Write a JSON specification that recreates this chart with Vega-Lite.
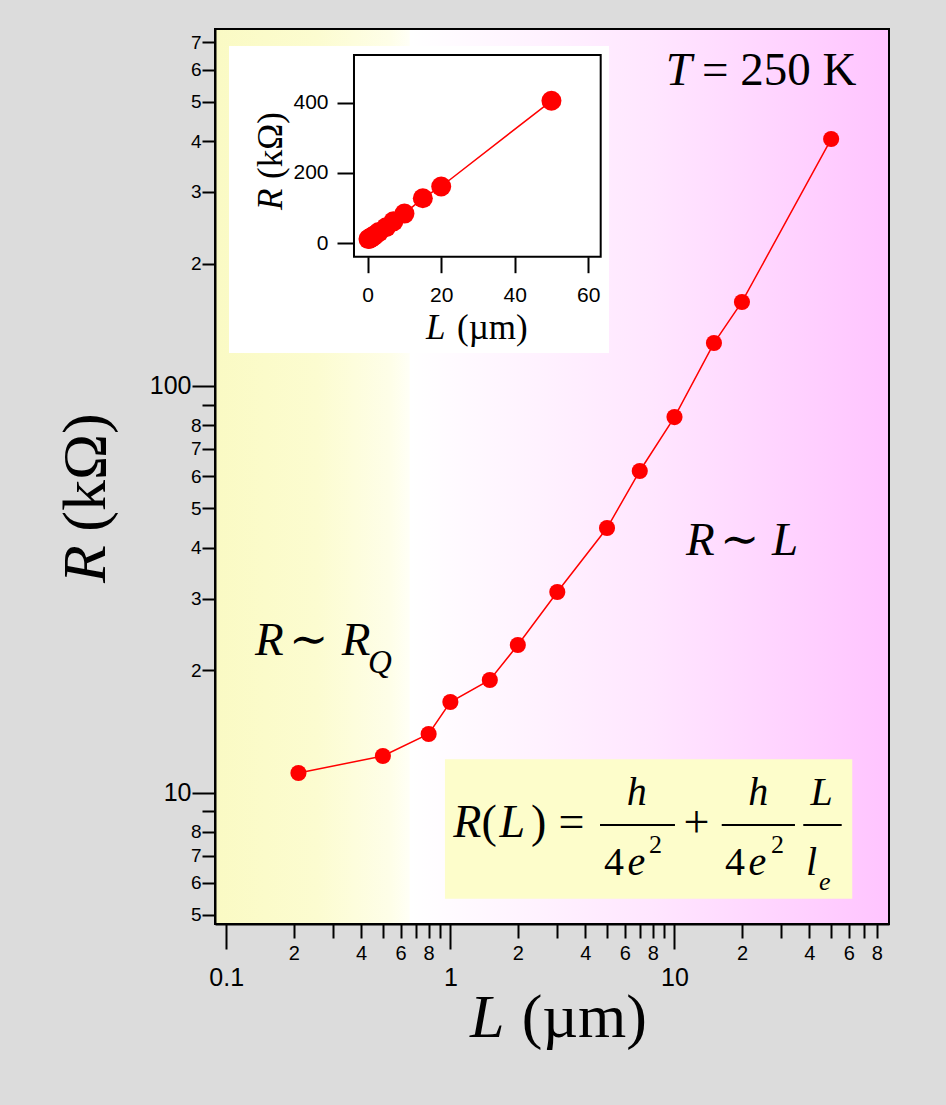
{
  "$schema": "https://vega.github.io/schema/vega-lite/v6.json",
  "autosize": {"type": "none"},
  "padding": {"left": 215, "top": 29, "right": 57, "bottom": 181},
  "width": 674,
  "height": 895,
  "background": "#dcdcdc",
  "view": {
    "fill": {
      "gradient": "linear", "x1": 0, "y1": 0, "x2": 1, "y2": 0,
      "stops": [
        {"offset": 0, "color": "#fafac4"},
        {"offset": 0.15, "color": "#fcfcd0"},
        {"offset": 0.26, "color": "#fefee8"},
        {"offset": 0.288, "color": "#fffff6"},
        {"offset": 0.29, "color": "#ffffff"},
        {"offset": 0.65, "color": "#ffe6ff"},
        {"offset": 1, "color": "#ffc4ff"}
      ]
    },
    "stroke": "black",
    "strokeWidth": 2
  },
  "config": {"text": {"font": "Liberation Serif", "color": "black", "baseline": "alphabetic"}},
  "datasets": {
    "resistance": [
      {"L": 0.21, "R": 11.17}, {"L": 0.5, "R": 12.3}, {"L": 0.8, "R": 13.93},
      {"L": 1, "R": 16.7}, {"L": 1.5, "R": 18.92}, {"L": 2, "R": 23.07},
      {"L": 3, "R": 31.13}, {"L": 5, "R": 44.73}, {"L": 7, "R": 61.78},
      {"L": 10, "R": 83.85}, {"L": 15, "R": 127.5}, {"L": 20, "R": 160.9},
      {"L": 50, "R": 404.9}
    ],
    "labelsItalic": [
      {"text": "T", "L": 9.15, "R": 549.8},
      {"text": "R", "L": 0.1344, "R": 21.79},
      {"text": "R", "L": 0.3275, "R": 21.79},
      {"text": "R", "L": 11.26, "R": 38.38},
      {"text": "L", "L": 27.24, "R": 38.38}
    ],
    "labelsUpright": [
      {"text": "= 250 K", "L": 13.27, "R": 549.8},
      {"text": "∼", "L": 0.1906, "R": 21.79},
      {"text": "∼", "L": 15.96, "R": 38.38}
    ],
    "labelsSubscript": [{"text": "Q", "L": 0.429, "R": 19.68}],
    "formulaBox": [{"L": 0.946, "L2": 62.1, "R": 5.48, "R2": 12.07}],
    "formulaItalic": [
      {"text": "R", "L": 1.0306, "R": 7.762},
      {"text": "L", "L": 1.6568, "R": 7.762}
    ],
    "formulaUpright": [
      {"text": "(", "L": 1.3772, "R": 7.762},
      {"text": ")", "L": 2.2895, "R": 7.762},
      {"text": "=", "L": 3.037, "R": 7.762},
      {"text": "+", "L": 10.97, "R": 7.762}
    ],
    "formulaNumerators": [
      {"text": "h", "L": 6.783, "R": 9.32},
      {"text": "h", "L": 23.66, "R": 9.32},
      {"text": "L", "L": 45.38, "R": 9.32}
    ],
    "formulaDenomItalic": [
      {"text": "e", "L": 6.171, "R": 6.268},
      {"text": "e", "L": 21.39, "R": 6.268},
      {"text": "l", "L": 38.63, "R": 6.268}
    ],
    "formulaDenomUpright": [
      {"text": "4", "L": 4.847, "R": 6.268},
      {"text": "4", "L": 16.81, "R": 6.268}
    ],
    "formulaSuperscripts": [
      {"text": "2", "L": 7.697, "R": 7.089},
      {"text": "2", "L": 26.96, "R": 7.089}
    ],
    "formulaSubscripts": [{"text": "e", "L": 44.14, "R": 5.758}],
    "fractionBars": [
      {"L": 4.653, "L2": 10.05, "R": 8.323},
      {"L": 16.25, "L2": 34.48, "R": 8.323},
      {"L": 37.55, "L2": 55.73, "R": 8.323}
    ],
    "axisTitleItalic": [{"text": "L", "L": 1.2234, "R": 2.509}],
    "axisTitleUpright": [{"text": "(µm)", "L": 2.081, "R": 2.509}],
    "axisTitleItalicVertical": [{"text": "R", "L": 0.02877, "R": 32.77}],
    "axisTitleUprightVertical": [{"text": "(kΩ)", "L": 0.02877, "R": 43.81}],
    "insetPanel": [{"L": -37.74, "L2": 65.66, "R": -313.2, "R2": 560.9}],
    "insetFrame": [{"L": -3.73, "L2": 63.4, "R": -39.0, "R2": 535.2}],
    "insetTitleItalic": [{"text": "L", "L": 15.86, "R": -273.3}],
    "insetTitleUpright": [{"text": "(µm)", "L": 24.3, "R": -273.3}],
    "insetTitleItalicVertical": [{"text": "R", "L": -23.4, "R": 93.95}],
    "insetTitleUprightVertical": [{"text": "(kΩ)", "L": -23.4, "R": 182.2}]
  },
  "layer": [
    {
      "encoding": {
        "x": {
          "field": "L", "type": "quantitative",
          "scale": {"type": "log", "domain": [0.0891, 90.6], "nice": false},
          "axis": {
            "title": null,
            "values": [0.1, 0.2, 0.3, 0.4, 0.5, 0.6, 0.7, 0.8, 0.9, 1, 2, 3, 4, 5, 6, 7, 8, 9, 10, 20, 30, 40, 50, 60, 70, 80],
            "labelExpr": "round(datum.value / pow(10, floor(log(datum.value) / LN10 + 1e-6))) == 1 ? format(datum.value, '~g') : (round(datum.value / pow(10, floor(log(datum.value) / LN10 + 1e-6))) % 2 == 0 ? '' + round(datum.value / pow(10, floor(log(datum.value) / LN10 + 1e-6))) : '')",
            "grid": false,
            "domainColor": "black", "domainWidth": 2,
            "tickColor": "black", "tickWidth": 2,
            "tickSize": {"condition": {"test": "round(datum.value / pow(10, floor(log(datum.value) / LN10 + 1e-6))) == 1", "value": 25}, "value": 14},
            "labelFontSize": {"condition": {"test": "round(datum.value / pow(10, floor(log(datum.value) / LN10 + 1e-6))) == 1", "value": 25}, "value": 20},
            "labelPadding": {"condition": {"test": "round(datum.value / pow(10, floor(log(datum.value) / LN10 + 1e-6))) == 1", "value": 36}, "value": 21},
            "labelBaseline": "alphabetic", "labelAlign": "center",
            "labelFont": "Liberation Sans", "labelColor": "black",
            "labelOverlap": false, "labelFlush": false, "labelBound": false,
            "zindex": 1
          }
        },
        "y": {
          "field": "R", "type": "quantitative",
          "scale": {"type": "log", "domain": [4.75, 755], "nice": false},
          "axis": {
            "title": null,
            "values": [5, 6, 7, 8, 9, 10, 20, 30, 40, 50, 60, 70, 80, 90, 100, 200, 300, 400, 500, 600, 700],
            "labelExpr": "round(datum.value / pow(10, floor(log(datum.value) / LN10 + 1e-6))) == 1 ? format(datum.value, '~g') : (round(datum.value / pow(10, floor(log(datum.value) / LN10 + 1e-6))) == 9 ? '' : '' + round(datum.value / pow(10, floor(log(datum.value) / LN10 + 1e-6))))",
            "grid": false,
            "domainColor": "black", "domainWidth": 2,
            "tickColor": "black", "tickWidth": 2,
            "tickSize": {"condition": {"test": "round(datum.value / pow(10, floor(log(datum.value) / LN10 + 1e-6))) == 1", "value": 23}, "value": 13},
            "labelFontSize": {"condition": {"test": "round(datum.value / pow(10, floor(log(datum.value) / LN10 + 1e-6))) == 1", "value": 25}, "value": 19},
            "labelPadding": 1,
            "labelBaseline": "middle", "labelAlign": "right",
            "labelFont": "Liberation Sans", "labelColor": "black",
            "labelOverlap": false, "labelFlush": false, "labelBound": false,
            "zindex": 1
          }
        }
      },
      "layer": [
        {
          "data": {"name": "formulaBox"},
          "mark": {"type": "rect", "color": "#fdfdcb"},
          "encoding": {"x2": {"field": "L2"}, "y2": {"field": "R2"}}
        },
        {
          "data": {"name": "resistance"},
          "mark": {"type": "line", "color": "#ff0000", "strokeWidth": 1.5}
        },
        {
          "data": {"name": "resistance"},
          "mark": {"type": "circle", "color": "#ff0000", "size": 260, "opacity": 1}
        },
        {
          "data": {"name": "labelsItalic"},
          "mark": {"type": "text", "fontSize": 47, "fontStyle": "italic", "align": "left"},
          "encoding": {"text": {"field": "text", "type": "nominal"}}
        },
        {
          "data": {"name": "labelsUpright"},
          "mark": {"type": "text", "fontSize": 47, "align": "left", "font": "Liberation Serif, DejaVu Serif"},
          "encoding": {"text": {"field": "text", "type": "nominal"}}
        },
        {
          "data": {"name": "labelsSubscript"},
          "mark": {"type": "text", "fontSize": 33, "fontStyle": "italic", "align": "left"},
          "encoding": {"text": {"field": "text", "type": "nominal"}}
        },
        {
          "data": {"name": "formulaItalic"},
          "mark": {"type": "text", "fontSize": 46, "fontStyle": "italic", "align": "left"},
          "encoding": {"text": {"field": "text", "type": "nominal"}}
        },
        {
          "data": {"name": "formulaUpright"},
          "mark": {"type": "text", "fontSize": 46, "align": "left"},
          "encoding": {"text": {"field": "text", "type": "nominal"}}
        },
        {
          "data": {"name": "formulaNumerators"},
          "mark": {"type": "text", "fontSize": 40, "fontStyle": "italic", "align": "center"},
          "encoding": {"text": {"field": "text", "type": "nominal"}}
        },
        {
          "data": {"name": "formulaDenomItalic"},
          "mark": {"type": "text", "fontSize": 40, "fontStyle": "italic", "align": "left"},
          "encoding": {"text": {"field": "text", "type": "nominal"}}
        },
        {
          "data": {"name": "formulaDenomUpright"},
          "mark": {"type": "text", "fontSize": 40, "align": "left"},
          "encoding": {"text": {"field": "text", "type": "nominal"}}
        },
        {
          "data": {"name": "formulaSuperscripts"},
          "mark": {"type": "text", "fontSize": 26, "align": "left"},
          "encoding": {"text": {"field": "text", "type": "nominal"}}
        },
        {
          "data": {"name": "formulaSubscripts"},
          "mark": {"type": "text", "fontSize": 26, "fontStyle": "italic", "align": "left"},
          "encoding": {"text": {"field": "text", "type": "nominal"}}
        },
        {
          "data": {"name": "fractionBars"},
          "mark": {"type": "rule", "color": "black", "strokeWidth": 2},
          "encoding": {"x2": {"field": "L2"}}
        },
        {
          "data": {"name": "axisTitleItalic"},
          "mark": {"type": "text", "fontSize": 62, "fontStyle": "italic", "align": "left"},
          "encoding": {"text": {"field": "text", "type": "nominal"}}
        },
        {
          "data": {"name": "axisTitleUpright"},
          "mark": {"type": "text", "fontSize": 62, "align": "left"},
          "encoding": {"text": {"field": "text", "type": "nominal"}}
        },
        {
          "data": {"name": "axisTitleItalicVertical"},
          "mark": {"type": "text", "fontSize": 62, "fontStyle": "italic", "align": "left", "angle": 270},
          "encoding": {"text": {"field": "text", "type": "nominal"}}
        },
        {
          "data": {"name": "axisTitleUprightVertical"},
          "mark": {"type": "text", "fontSize": 62, "align": "left", "angle": 270},
          "encoding": {"text": {"field": "text", "type": "nominal"}}
        }
      ]
    },
    {
      "encoding": {
        "x": {
          "field": "L", "type": "quantitative",
          "scale": {"domain": [-41.55, 141.85], "nice": false, "zero": false},
          "axis": {
            "title": null, "orient": "bottom", "offset": -667.3,
            "values": [0, 20, 40, 60], "domain": false, "grid": false,
            "tickColor": "black", "tickWidth": 2, "tickSize": 16,
            "labelFontSize": 21, "labelPadding": 28.4, "labelBaseline": "alphabetic",
            "labelFont": "Liberation Sans", "labelColor": "black",
            "labelOverlap": false, "labelFlush": false, "labelBound": false,
            "zindex": 1
          }
        },
        "y": {
          "field": "R", "type": "quantitative",
          "scale": {"domain": [-1938.8, 609.3], "nice": false, "zero": false},
          "axis": {
            "title": null, "orient": "left", "offset": -139,
            "values": [0, 200, 400], "domain": false, "grid": false,
            "tickColor": "black", "tickWidth": 2, "tickSize": 17,
            "labelFontSize": 21, "labelPadding": 9, "labelBaseline": "middle",
            "labelFont": "Liberation Sans", "labelColor": "black",
            "labelOverlap": false, "labelFlush": false, "labelBound": false,
            "zindex": 1
          }
        }
      },
      "layer": [
        {
          "data": {"name": "insetPanel"},
          "mark": {"type": "rect", "color": "white"},
          "encoding": {"x2": {"field": "L2"}, "y2": {"field": "R2"}}
        },
        {
          "data": {"name": "resistance"},
          "mark": {"type": "line", "color": "#ff0000", "strokeWidth": 1.5}
        },
        {
          "data": {"name": "resistance"},
          "mark": {"type": "circle", "color": "#ff0000", "size": 400, "opacity": 1}
        },
        {
          "data": {"name": "insetFrame"},
          "mark": {"type": "rect", "fill": null, "stroke": "black", "strokeWidth": 2},
          "encoding": {"x2": {"field": "L2"}, "y2": {"field": "R2"}}
        },
        {
          "data": {"name": "insetTitleItalic"},
          "mark": {"type": "text", "fontSize": 35, "fontStyle": "italic", "align": "left"},
          "encoding": {"text": {"field": "text", "type": "nominal"}}
        },
        {
          "data": {"name": "insetTitleUpright"},
          "mark": {"type": "text", "fontSize": 35, "align": "left"},
          "encoding": {"text": {"field": "text", "type": "nominal"}}
        },
        {
          "data": {"name": "insetTitleItalicVertical"},
          "mark": {"type": "text", "fontSize": 35, "fontStyle": "italic", "align": "left", "angle": 270},
          "encoding": {"text": {"field": "text", "type": "nominal"}}
        },
        {
          "data": {"name": "insetTitleUprightVertical"},
          "mark": {"type": "text", "fontSize": 35, "align": "left", "angle": 270},
          "encoding": {"text": {"field": "text", "type": "nominal"}}
        }
      ]
    }
  ],
  "resolve": {
    "scale": {"x": "independent", "y": "independent"},
    "axis": {"x": "independent", "y": "independent"}
  }
}
